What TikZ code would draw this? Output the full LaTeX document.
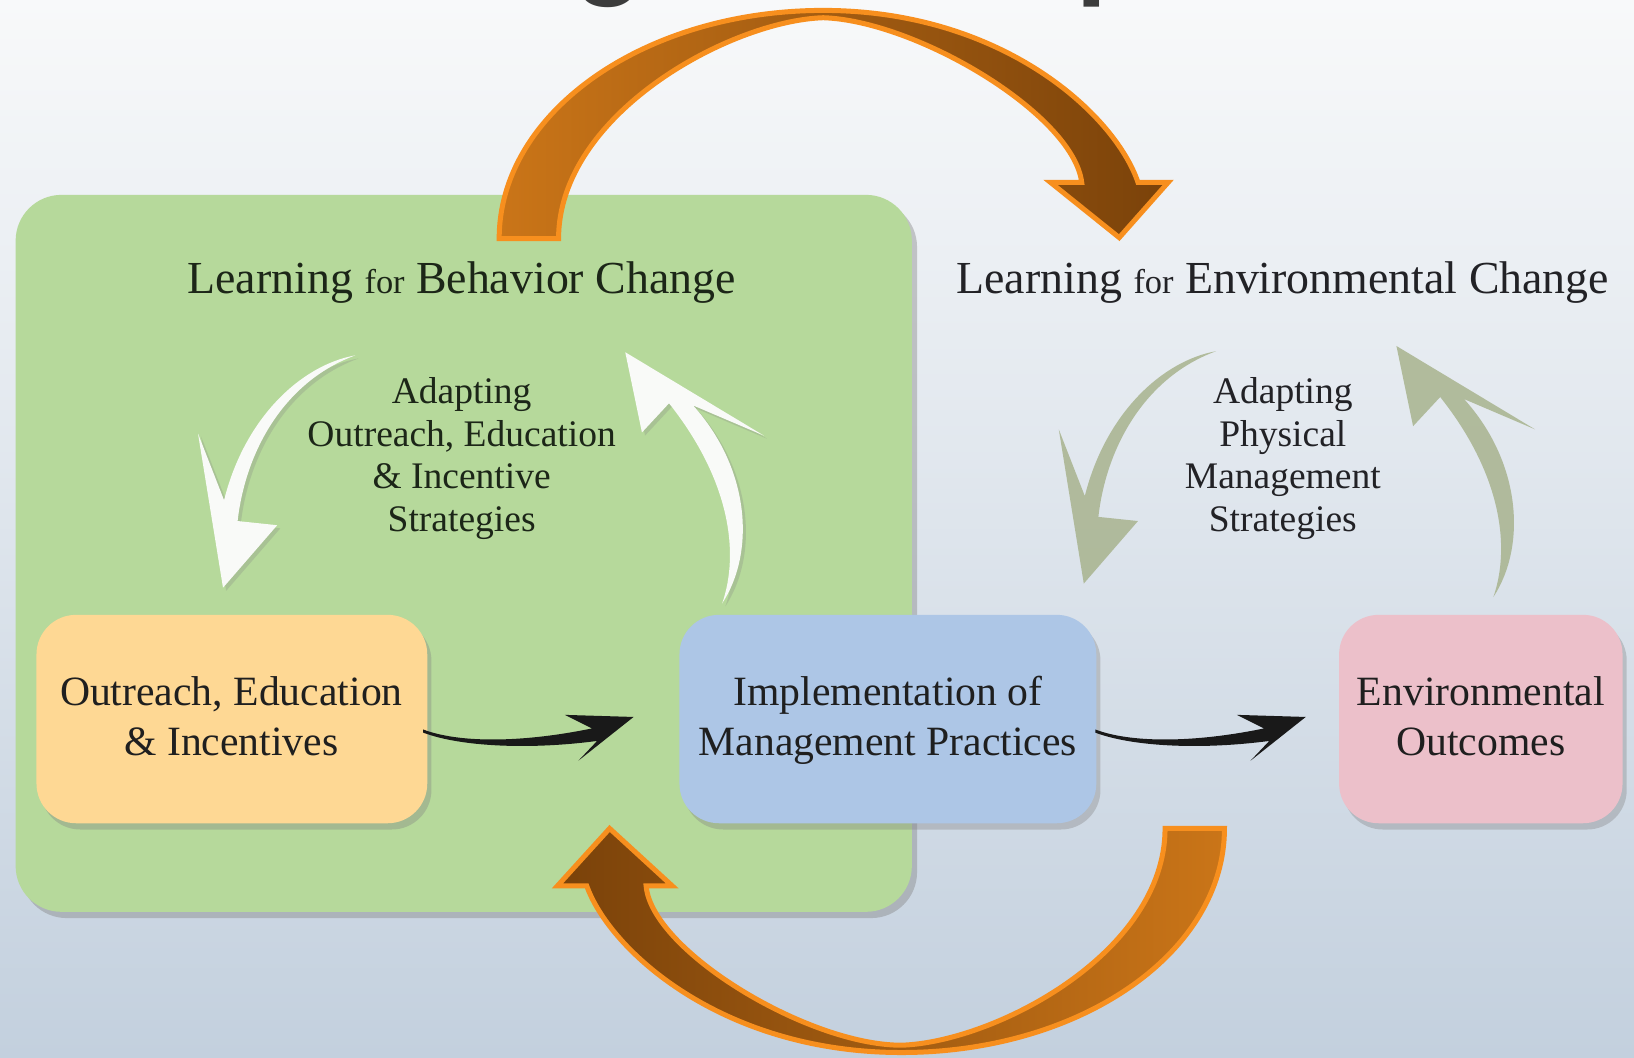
\documentclass[tikz,border=0pt]{standalone}
\usepackage{fontspec}
\setmainfont{Liberation Serif}
\newfontfamily\headfont{Carlito}
\usetikzlibrary{shadows}
\definecolor{bgtop}{RGB}{248,249,250}
\definecolor{bgmid}{RGB}{231,235,241}
\definecolor{bgbot}{RGB}{195,208,222}
\definecolor{greenfill}{RGB}{182,217,155}
\definecolor{orangefill}{RGB}{254,216,148}
\definecolor{bluefill}{RGB}{173,198,230}
\definecolor{pinkfill}{RGB}{236,192,202}
\definecolor{arrowlight}{RGB}{202,117,24}
\definecolor{arrowdark}{RGB}{122,66,10}
\definecolor{arrowedge}{RGB}{247,143,30}
\definecolor{graygreen}{RGB}{168,179,142}
\definecolor{whitearrow}{RGB}{249,250,248}
\definecolor{darktext}{RGB}{28,38,24}
\definecolor{graytext}{RGB}{34,34,38}
\definecolor{titlegray}{RGB}{60,60,60}
\begin{document}
\begin{tikzpicture}[x=0.5pt,y=-0.5pt,
  boxstyle/.style={rectangle, rounded corners=19pt, draw=none, minimum height=100pt, inner sep=0pt,
    drop shadow={opacity=0.35, shadow xshift=2pt, shadow yshift=-3pt}},
  titletext/.style={anchor=base, inner sep=0pt, font=\fontsize{22pt}{26pt}\selectfont},
  midtext/.style={anchor=base, inner sep=0pt, font=\fontsize{18pt}{21pt}\selectfont},
  boxtext/.style={anchor=base, inner sep=0pt, font=\fontsize{20pt}{24pt}\selectfont, text=black!88},
  bigarrow/.style={draw=arrowedge, line width=2.4pt, line join=miter},
  blackarrow/.style={fill=black!90, draw=none},
  whitecurve/.style={fill=whitearrow, drop shadow={opacity=0.25, shadow xshift=1.5pt, shadow yshift=-1.5pt}},
  graycurve/.style={fill=graygreen, fill opacity=0.85},
  glyph/.style={anchor=base west, inner sep=0pt, text=titlegray, font=\headfont\bfseries\fontsize{60pt}{70pt}\selectfont}
]
\useasboundingbox (0,0) rectangle (1568,1015);
\begin{scope}
\clip (0,0) rectangle (1568,1015);
% background
\shade[top color=bgtop, middle color=bgmid, bottom color=bgbot] (0,0) rectangle (1568,1015);
% clipped title descenders
\node[glyph] (tg) at (556,-13) {g};
\node[glyph] (tp) at (1033,-12) {p};
% green panel
\node[rectangle, rounded corners=22pt, fill=greenfill, minimum width=430pt, minimum height=344pt, inner sep=0pt,
  drop shadow={opacity=0.4, shadow xshift=2.5pt, shadow yshift=-3pt}] (green) at (445,531) {};
% top orange arrow
\path[bigarrow, left color=arrowlight, right color=arrowdark]
  (479,229) .. controls (479,108) and (618,10) .. (790,10)
  .. controls (962,10) and (1070,110) .. (1092,175)
  -- (1121,175) -- (1074,228) -- (1008,175) -- (1038,175)
  .. controls (1030,110) and (880,20) .. (790,17)
  .. controls (700,20) and (536,110) .. (536,229) -- cycle;
% white curved arrows
\path[whitecurve]
  (341,341) .. controls (290,350) and (235,400) .. (215,480)
  -- (190,416) -- (214,564) -- (266,504) -- (228,500)
  .. controls (236,430) and (275,365) .. (341,341) -- cycle;
\path[whitecurve]
  (693,579) .. controls (710,530) and (700,460) .. (642,387)
  -- (616,415) -- (600,338) -- (733,418) -- (665,389)
  .. controls (720,450) and (725,530) .. (693,579) -- cycle;
% gray-green curved arrows
\begin{scope}[shift={(826,-4)}]
\path[graycurve]
  (341,341) .. controls (290,350) and (235,400) .. (215,480)
  -- (190,416) -- (214,564) -- (266,504) -- (228,500)
  .. controls (236,430) and (275,365) .. (341,341) -- cycle;
\end{scope}
\begin{scope}[shift={(740,-6)}]
\path[graycurve]
  (693,579) .. controls (710,530) and (700,460) .. (642,387)
  -- (616,415) -- (600,338) -- (733,418) -- (665,389)
  .. controls (720,450) and (725,530) .. (693,579) -- cycle;
\end{scope}
% titles
\node[titletext, text=darktext] (t1) at (443,282) {Learning {\fontsize{16.5pt}{18pt}\selectfont for} Behavior Change};
\node[titletext, text=graytext] (t2) at (1231,282) {Learning {\fontsize{16.5pt}{18pt}\selectfont for} Environmental Change};
% middle texts
\node[midtext, text=darktext] (m1) at (443,387) {Adapting};
\node[midtext, text=darktext] (m2) at (443,428) {Outreach, Education};
\node[midtext, text=darktext] (m3) at (443,469) {\& Incentive};
\node[midtext, text=darktext] (m4) at (443,510) {Strategies};
\node[midtext, text=graytext] (r1) at (1231,387) {Adapting};
\node[midtext, text=graytext] (r2) at (1231,428) {Physical};
\node[midtext, text=graytext] (r3) at (1231,469) {Management};
\node[midtext, text=graytext] (r4) at (1231,510) {Strategies};
% boxes
\node[boxstyle, fill=orangefill, minimum width=187.5pt] (oei) at (222.5,690) {};
\node[boxstyle, fill=bluefill, minimum width=200pt] (imp) at (852,690) {};
\node[boxstyle, fill=pinkfill, minimum width=136pt] (env) at (1421,690) {};
\node[boxtext] (oe1) at (222,677) {Outreach, Education};
\node[boxtext] (oe2) at (222,725) {\& Incentives};
\node[boxtext] (im1) at (852,677) {Implementation of};
\node[boxtext] (im2) at (852,725) {Management Practices};
\node[boxtext] (en1) at (1421,677) {Environmental};
\node[boxtext] (en2) at (1421,725) {Outcomes};
% black arrows
\path[blackarrow]
  (406,700) .. controls (440,713) and (500,713) .. (568,699)
  -- (542,686) -- (608,688) -- (555,730) -- (573,711)
  .. controls (505,720) and (440,716) .. (406,703) -- cycle;
\begin{scope}[shift={(645,0)}]
\path[blackarrow]
  (406,700) .. controls (440,713) and (500,713) .. (568,699)
  -- (542,686) -- (608,688) -- (555,730) -- (573,711)
  .. controls (505,720) and (440,716) .. (406,703) -- cycle;
\end{scope}
% bottom orange arrow
\path[bigarrow, left color=arrowdark, right color=arrowlight]
  (1175,795) .. controls (1175,914) and (1037,1010) .. (865,1010)
  .. controls (693,1010) and (585,912) .. (563,850)
  -- (535,850) -- (585,795) -- (645,850) -- (620,850)
  .. controls (625,912) and (775,1003) .. (865,1003)
  .. controls (955,1000) and (1118,914) .. (1118,795) -- cycle;
\end{scope}
\end{tikzpicture}
\end{document}
